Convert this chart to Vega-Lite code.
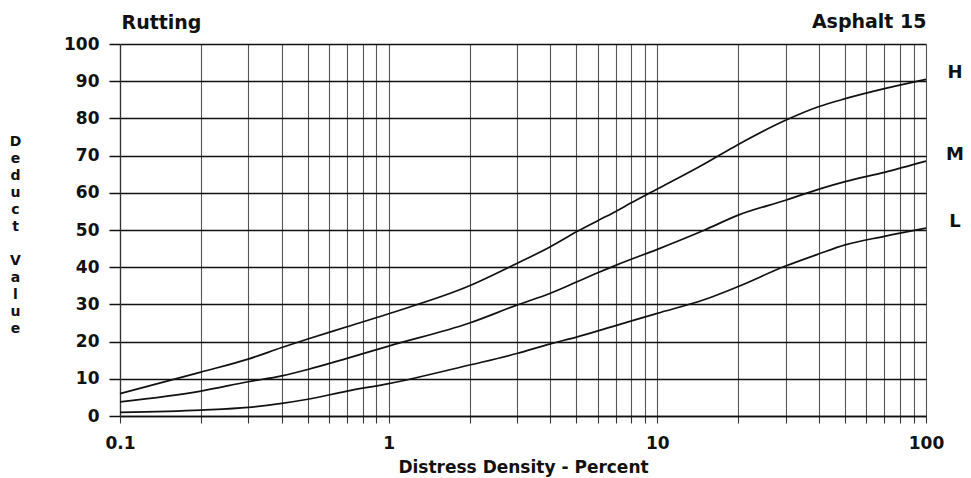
{
  "$schema": "https://vega.github.io/schema/vega-lite/v6.json",
  "autosize": {"type": "none"},
  "width": 806,
  "height": 372,
  "padding": {"left": 120, "top": 44, "right": 45, "bottom": 62},
  "background": "white",
  "config": {
    "view": {"stroke": null},
    "font": "DejaVu Sans",
    "axis": {"labelFont": "DejaVu Sans", "titleFont": "DejaVu Sans", "labelFontWeight": "bold", "titleFontWeight": "bold", "labelColor": "#111", "titleColor": "#111"}
  },
  "data": {"values": [
    {"series": "H", "x": 0.1, "y": 6},
    {"series": "H", "x": 0.2, "y": 11.8},
    {"series": "H", "x": 0.3, "y": 15.3},
    {"series": "H", "x": 0.4, "y": 18.4},
    {"series": "H", "x": 0.5, "y": 20.7},
    {"series": "H", "x": 0.7, "y": 24},
    {"series": "H", "x": 1, "y": 27.5},
    {"series": "H", "x": 2, "y": 35},
    {"series": "H", "x": 3, "y": 41},
    {"series": "H", "x": 4, "y": 45.5},
    {"series": "H", "x": 5, "y": 49.5},
    {"series": "H", "x": 6, "y": 52.5},
    {"series": "H", "x": 7, "y": 55},
    {"series": "H", "x": 8, "y": 57.3},
    {"series": "H", "x": 10, "y": 61},
    {"series": "H", "x": 15, "y": 67.8},
    {"series": "H", "x": 20, "y": 73},
    {"series": "H", "x": 30, "y": 79.5},
    {"series": "H", "x": 40, "y": 83.2},
    {"series": "H", "x": 50, "y": 85.3},
    {"series": "H", "x": 70, "y": 88},
    {"series": "H", "x": 100, "y": 90.5},
    {"series": "M", "x": 0.1, "y": 3.8},
    {"series": "M", "x": 0.2, "y": 6.7},
    {"series": "M", "x": 0.3, "y": 9.2},
    {"series": "M", "x": 0.4, "y": 10.8},
    {"series": "M", "x": 0.5, "y": 12.5},
    {"series": "M", "x": 0.7, "y": 15.5},
    {"series": "M", "x": 1, "y": 18.8},
    {"series": "M", "x": 2, "y": 25},
    {"series": "M", "x": 3, "y": 29.8},
    {"series": "M", "x": 4, "y": 33},
    {"series": "M", "x": 5, "y": 36},
    {"series": "M", "x": 6, "y": 38.5},
    {"series": "M", "x": 7, "y": 40.5},
    {"series": "M", "x": 10, "y": 44.8},
    {"series": "M", "x": 15, "y": 50},
    {"series": "M", "x": 20, "y": 54},
    {"series": "M", "x": 30, "y": 58},
    {"series": "M", "x": 40, "y": 61},
    {"series": "M", "x": 50, "y": 63},
    {"series": "M", "x": 70, "y": 65.5},
    {"series": "M", "x": 100, "y": 68.5},
    {"series": "L", "x": 0.1, "y": 1},
    {"series": "L", "x": 0.2, "y": 1.6},
    {"series": "L", "x": 0.3, "y": 2.3},
    {"series": "L", "x": 0.4, "y": 3.4},
    {"series": "L", "x": 0.5, "y": 4.5},
    {"series": "L", "x": 0.7, "y": 6.7},
    {"series": "L", "x": 1, "y": 8.7},
    {"series": "L", "x": 2, "y": 13.7},
    {"series": "L", "x": 3, "y": 16.8},
    {"series": "L", "x": 4, "y": 19.4},
    {"series": "L", "x": 5, "y": 21.2},
    {"series": "L", "x": 7, "y": 24.3},
    {"series": "L", "x": 10, "y": 27.6},
    {"series": "L", "x": 15, "y": 31.3},
    {"series": "L", "x": 20, "y": 34.8},
    {"series": "L", "x": 30, "y": 40.3},
    {"series": "L", "x": 40, "y": 43.6},
    {"series": "L", "x": 50, "y": 46},
    {"series": "L", "x": 70, "y": 48.3},
    {"series": "L", "x": 100, "y": 50.5}
  ]},
  "resolve": {"axis": {"x": "independent", "y": "independent"}},
  "layer": [
    {
      "mark": {"type": "line", "color": "#111", "strokeWidth": 1.7, "interpolate": "monotone"},
      "encoding": {
        "detail": {"field": "series"},
        "x": {
          "field": "x", "type": "quantitative",
          "scale": {"type": "log", "domain": [0.1, 100], "nice": false},
          "axis": {
            "orient": "bottom",
            "title": "Distress Density - Percent",
            "titleFontSize": 17,
            "titleY": 51,
            "titleBaseline": "middle",
            "values": [0.1, 0.2, 0.3, 0.4, 0.5, 0.6, 0.7, 0.8, 0.9, 1, 2, 3, 4, 5, 6, 7, 8, 9, 10, 20, 30, 40, 50, 60, 70, 80, 90, 100],
            "labelExpr": "indexof([0.1, 1, 10, 100], datum.value) >= 0 ? format(datum.value, '~g') : ''",
            "labelOverlap": false,
            "labelFlush": false,
            "labelFontSize": 17,
            "labelPadding": 12,
            "tickSize": 7,
            "tickColor": "#333",
            "tickWidth": 1.1,
            "grid": true,
            "gridColor": "#555",
            "gridWidth": 1.1,
            "domainColor": "#111",
            "domainWidth": 1.6
          }
        },
        "y": {
          "field": "y", "type": "quantitative",
          "scale": {"domain": [0, 100], "nice": false},
          "axis": {
            "orient": "left",
            "values": [0, 10, 20, 30, 40, 50, 60, 70, 80, 90, 100],
            "title": ["D", "e", "d", "u", "c", "t", "\u200b", "V", "a", "l", "u", "e"],
            "titleAngle": 0,
            "titleAlign": "center",
            "titleBaseline": "middle",
            "titleLineHeight": 17,
            "titleFontSize": 14,
            "titleX": -105,
            "titleY": 97,
            "labelFontSize": 17,
            "labelPadding": 10,
            "tickSize": 11,
            "tickColor": "#111",
            "tickWidth": 1.5,
            "grid": true,
            "gridColor": "#111",
            "gridWidth": 1.6,
            "domainColor": "#333",
            "domainWidth": 1.3
          }
        }
      }
    },
    {
      "transform": [{"filter": "datum.x == 100"}],
      "mark": {"type": "text", "dx": 29, "dy": -6, "align": "center", "baseline": "middle", "fontSize": 18, "fontWeight": "bold", "font": "DejaVu Sans", "color": "#111"},
      "encoding": {
        "text": {"field": "series"},
        "x": {
          "field": "x", "type": "quantitative",
          "axis": {
            "orient": "top", "labels": false, "ticks": false, "domain": false, "grid": false,
            "title": "Rutting", "titleFontSize": 19, "titleX": 1, "titleY": -22,
            "titleAlign": "left", "titleBaseline": "middle"
          }
        },
        "y": {
          "field": "y", "type": "quantitative",
          "axis": {
            "orient": "right", "labels": false, "ticks": false, "domain": false, "grid": false,
            "title": "Asphalt 15", "titleFontSize": 19, "titleAngle": 0, "titleX": 0, "titleY": -23,
            "titleAlign": "right", "titleBaseline": "middle"
          }
        }
      }
    }
  ]
}
